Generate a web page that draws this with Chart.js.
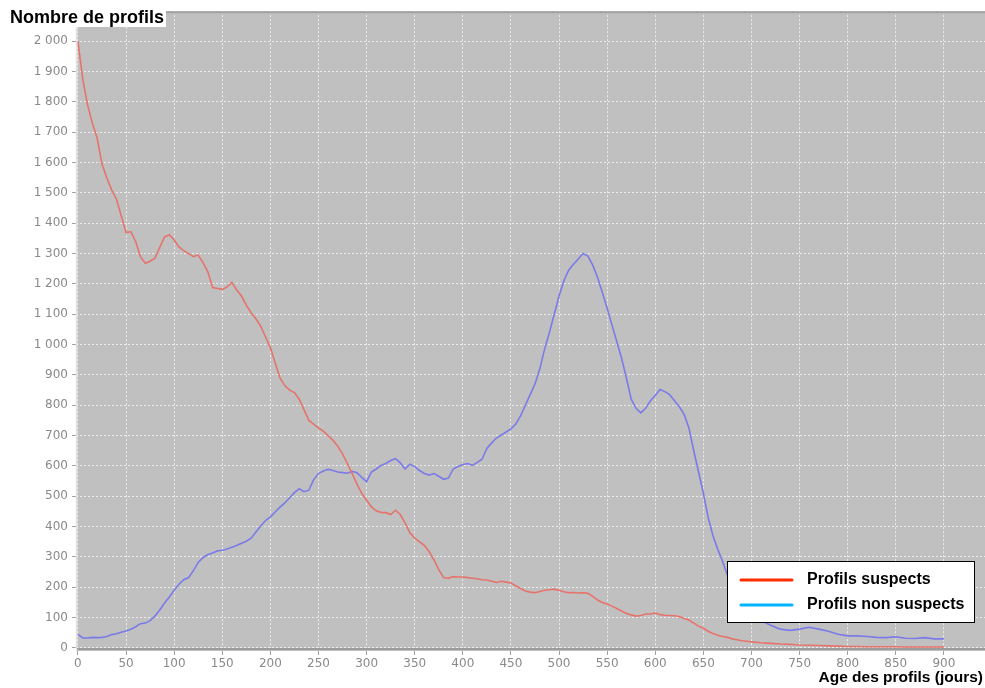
<!DOCTYPE html>
<html><head><meta charset="utf-8">
<script src="https://cdn.jsdelivr.net/npm/chart.js@4/dist/chart.umd.min.js"></script>
<style>html,body{margin:0;padding:0;background:#fff}canvas{display:block}</style>
</head><body>
<canvas id="c" width="985" height="688"></canvas>
<script>
const days = [0,5,10,15,20,25,30,35,40,45,50,55,60,65,70,75,80,85,90,95,100,105,110,115,120,125,130,135,140,145,150,155,160,165,170,175,180,185,190,195,200,205,210,215,220,225,230,235,240,245,250,255,260,265,270,275,280,285,290,295,300,305,310,315,320,325,330,335,340,345,350,355,360,365,370,375,380,385,390,395,400,405,410,415,420,425,430,435,440,445,450,455,460,465,470,475,480,485,490,495,500,505,510,515,520,525,530,535,540,545,550,555,560,565,570,575,580,585,590,595,600,605,610,615,620,625,630,635,640,645,650,655,660,665,670,675,680,685,690,695,700,710,720,730,740,750,760,770,780,790,800,810,820,830,840,850,860,870,880,890,900];
const suspects = [2000,1875,1790,1730,1680,1595,1550,1510,1480,1425,1370,1372,1340,1290,1268,1275,1285,1320,1355,1362,1345,1322,1310,1300,1290,1295,1270,1240,1188,1185,1182,1190,1205,1180,1160,1130,1105,1085,1060,1025,990,940,890,865,850,842,820,785,750,738,725,715,700,685,665,640,608,575,540,510,487,465,452,447,446,440,454,440,412,380,362,350,338,318,290,258,232,230,235,234,234,232,230,228,225,224,220,216,220,217,214,205,196,188,184,182,186,190,192,194,190,185,182,183,181,182,180,170,158,150,145,138,130,122,114,109,105,107,112,112,115,110,108,107,106,104,97,92,82,72,65,55,48,42,38,35,30,27,24,22,20,17,15,13,12,10,9,8,7,6,5,5,4,4,4,4,3,3,3,3,3];
const nonSuspects = [45,33,33,35,34,35,38,44,47,52,56,62,70,80,82,90,105,125,148,168,190,210,225,232,255,282,298,308,313,320,322,326,332,338,345,352,362,382,402,420,432,448,464,478,495,512,525,515,520,555,575,583,589,585,580,578,576,582,578,562,548,580,590,602,608,618,624,610,590,606,598,585,575,570,575,566,556,560,590,598,605,608,602,612,622,658,676,692,702,712,722,738,765,800,835,870,920,985,1040,1100,1160,1210,1245,1265,1282,1300,1292,1262,1222,1172,1120,1065,1010,955,890,820,790,775,790,815,832,852,845,835,815,795,770,725,650,580,510,430,370,325,285,240,200,175,150,128,112,90,75,62,58,62,68,62,55,45,40,40,38,35,34,37,32,31,34,30,30];
const xTicks = [0,50,100,150,200,250,300,350,400,450,500,550,600,650,700,750,800,850,900];
const yTicks = [0,100,200,300,400,500,600,700,800,900,1000,1100,1200,1300,1400,1500,1600,1700,1800,1900,2000];
const seriesNames = ['Profils suspects','Profils non suspects'];
const yTitle = 'Nombre de profils';
const xTitle = 'Age des profils (jours)';

function fmt(v){ return String(v).replace(/\B(?=(\d{3})+(?!\d))/g,' '); }

const decor = {
  id:'decor',
  beforeDraw(chart){
    const {ctx, chartArea:a} = chart;
    ctx.save();
    ctx.fillStyle = '#c0c0c0';
    ctx.fillRect(a.left, a.top, a.right-a.left, a.bottom-a.top);
    ctx.restore();
  },
  afterDraw(chart){
    const {ctx, chartArea:a} = chart;
    ctx.save();
    // borders
    ctx.strokeStyle = '#a2a2a2'; ctx.lineWidth = 2;
    ctx.beginPath(); ctx.moveTo(a.left, a.top+1); ctx.lineTo(a.right, a.top+1); ctx.stroke();
    ctx.strokeStyle = '#9c9c9c'; ctx.lineWidth = 2;
    const y0 = chart.scales.y.getPixelForValue(0);
    ctx.beginPath(); ctx.moveTo(a.left, y0+1); ctx.lineTo(a.right, y0+1); ctx.stroke();
    ctx.strokeStyle = '#e2e2e2'; ctx.lineWidth = 1.5;
    ctx.beginPath(); ctx.moveTo(a.left+0.5, a.top); ctx.lineTo(a.left+0.5, a.bottom); ctx.stroke();
    // y title
    ctx.fillStyle = '#fff';
    ctx.fillRect(0, 0, 166, 27);
    ctx.fillStyle = '#000';
    ctx.font = 'bold 18px "Liberation Sans", Arial, sans-serif';
    ctx.textAlign = 'left'; ctx.textBaseline = 'alphabetic';
    ctx.fillText(yTitle, 10, 23);
    // x title
    ctx.font = 'bold 15.5px "Liberation Sans", Arial, sans-serif';
    ctx.textAlign = 'right';
    ctx.fillText(xTitle, 983, 682);
    // legend
    const lx = 727.5, ly = 561.5, lw = 247, lh = 61;
    ctx.fillStyle = '#fff'; ctx.fillRect(lx, ly, lw, lh);
    ctx.strokeStyle = '#000'; ctx.lineWidth = 1; ctx.strokeRect(lx, ly, lw, lh);
    const cols = ['#ff2d00', '#00b4ff'];
    const ys = [580, 605];
    ctx.lineCap = 'round';
    for (let i=0;i<2;i++){
      ctx.strokeStyle = cols[i]; ctx.lineWidth = 3;
      ctx.beginPath(); ctx.moveTo(741, ys[i]); ctx.lineTo(792, ys[i]); ctx.stroke();
      ctx.fillStyle = '#000';
      ctx.font = 'bold 16px "Liberation Sans", Arial, sans-serif';
      ctx.textAlign = 'left'; ctx.textBaseline = 'middle';
      ctx.fillText(seriesNames[i], 807, ys[i]);
    }
    ctx.restore();
  }
};

new Chart(document.getElementById('c'), {
  type: 'line',
  data: {
    datasets: [
      { label: seriesNames[0], data: days.map((d,i)=>({x:d, y:suspects[i]})), borderColor:'#e6736b', borderWidth:1.6, pointRadius:0, tension:0 },
      { label: seriesNames[1], data: days.map((d,i)=>({x:d, y:nonSuspects[i]})), borderColor:'#7a7ae8', borderWidth:1.6, pointRadius:0, tension:0 }
    ]
  },
  options: {
    responsive:false, animation:false, devicePixelRatio:1,
    layout:{ padding:{ top:10, right:0, left:0, bottom:0 } },
    plugins:{ legend:{display:false}, tooltip:{enabled:false}, title:{display:false} },
    scales:{
      x:{
        type:'linear', min:-2, max:942.7,
        afterBuildTicks: s => { s.ticks = xTicks.map(v=>({value:v})); },
        afterFit: s => { s.height = 37; },
        ticks:{ color:'#8a8a8a', font:{family:'"DejaVu Sans", sans-serif', size:12}, padding:2, maxRotation:0, autoSkip:false, callback:v=>String(v) },
        grid:{ color:'rgba(255,255,255,0.7)', lineWidth:1, drawTicks:true, tickLength:4, tickColor:'#a0a0a0', tickBorderDash:[] },
        border:{ display:false, dash:[2,2] }
      },
      y:{
        type:'linear', min:-10, max:2099,
        afterBuildTicks: s => { s.ticks = yTicks.map(v=>({value:v})); },
        afterFit: s => { s.width = 76; },
        ticks:{ color:'#8a8a8a', font:{family:'"DejaVu Sans", sans-serif', size:12}, padding:4, autoSkip:false, callback:v=>fmt(v) },
        grid:{ color:'rgba(255,255,255,0.7)', lineWidth:1, drawTicks:true, tickLength:4, tickColor:'#a0a0a0', tickBorderDash:[] },
        border:{ display:false, dash:[2,2] }
      }
    }
  },
  plugins:[decor]
});
</script>
</body></html>
